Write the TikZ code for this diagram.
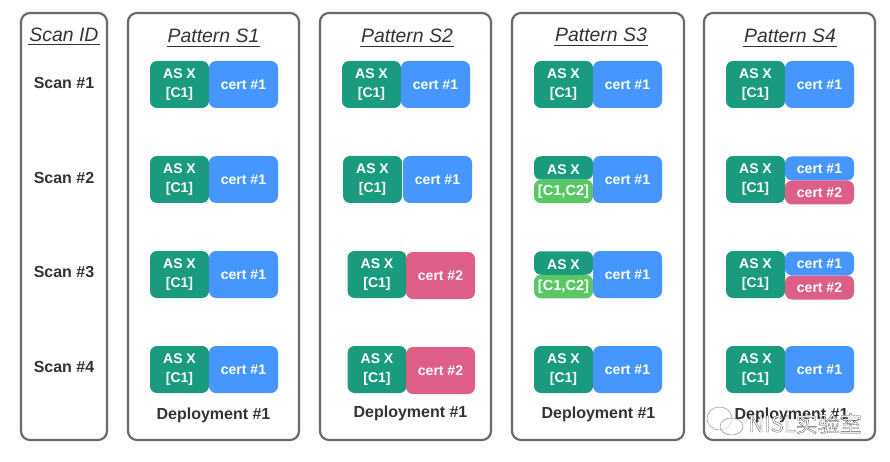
\documentclass[tikz,border=0pt]{standalone}
\usepackage{fontspec}
\setmainfont{Liberation Sans}
\newfontfamily\cjkfont{Noto Sans CJK SC}
\definecolor{panelc}{HTML}{6B6B6B}
\definecolor{inkc}{HTML}{333333}
\definecolor{tealc}{HTML}{1A9A7E}
\definecolor{bluec}{HTML}{4596FF}
\definecolor{pinkc}{HTML}{DD5E87}
\definecolor{greenc}{HTML}{58C764}
\tikzset{
  panel/.style={draw=panelc,line width=2.2pt,rounded corners=9pt,fill=white},
  tile/.style={inner sep=0pt,outer sep=0pt,rounded corners=7pt,text=white,align=center,
    font=\fontsize{14}{19}\selectfont\bfseries},
  asbox/.style={tile,fill=tealc,minimum width=59pt,minimum height=47pt,
    execute at begin node={\rule{0pt}{12.5pt}}},
  asthin/.style={tile,fill=tealc,minimum width=59pt,minimum height=23.5pt,
    execute at begin node={\rule{0pt}{12.5pt}}},
  ccbox/.style={tile,fill=greenc,minimum width=59pt,minimum height=23.5pt,font=\fontsize{14.6}{18}\selectfont\bfseries},
  certbox/.style={tile,fill=bluec,minimum width=69pt,minimum height=47pt},
  certtwo/.style={tile,fill=pinkc,minimum width=69pt,minimum height=47pt},
  certthin/.style={tile,fill=bluec,minimum width=69pt,minimum height=24pt},
  certthintwo/.style={tile,fill=pinkc,minimum width=69pt,minimum height=24pt},
  title/.style={inner sep=0pt,outer sep=0pt,text=inkc,text depth=3.5pt,text height=15pt,font=\fontsize{19.4}{22}\selectfont\itshape},
  rowlabel/.style={inner sep=0pt,text=inkc,font=\fontsize{16}{19}\selectfont\bfseries},
  rule/.style={draw=inkc,line width=1.2pt},
  bubble/.style={draw=black!50,line width=.4pt,fill=white,fill opacity=.55},
}
\begin{document}
\begin{tikzpicture}[x=1pt,y=-1pt]
\useasboundingbox (0,0) rectangle (890,462);
% panels
\draw[panel] (21,13) rectangle (107,440);
\draw[panel] (128,13) rectangle (299,440);
\draw[panel] (320,13) rectangle (491,440);
\draw[panel] (512,13) rectangle (684,440);
\draw[panel] (704,13) rectangle (875,440);
% titles
\node[title] (tid) at (64,35.5) {Scan ID};
\node[title] (ts1) at (213.5,37.2) {Pattern S1};
\node[title] (ts2) at (407,37.2) {Pattern S2};
\node[title] (ts3) at (601,36.2) {Pattern S3};
\node[title] (ts4) at (790,37.2) {Pattern S4};
\foreach \t in {tid,ts1,ts2,ts3,ts4}{\draw[rule] ([xshift=-1pt]\t.south west) -- ([xshift=1pt]\t.south east);}
% scan labels
\node[rowlabel] (l1) at (64,83) {Scan \#1};
\node[rowlabel] (l2) at (64,178) {Scan \#2};
\node[rowlabel] (l3) at (64,272) {Scan \#3};
\node[rowlabel] (l4) at (64,367) {Scan \#4};
% S1
\node[asbox] (a11) at (179.5,84.5) {AS X\\{}[C1]};
\node[certbox] (c11) at (243.5,84.5) {cert \#1};
\node[asbox] (a12) at (179.5,179.5) {AS X\\{}[C1]};
\node[certbox] (c12) at (243.5,179.5) {cert \#1};
\node[asbox] (a13) at (179.5,274.5) {AS X\\{}[C1]};
\node[certbox] (c13) at (243.5,274.5) {cert \#1};
\node[asbox] (a14) at (179.5,369.5) {AS X\\{}[C1]};
\node[certbox] (c14) at (243.5,369.5) {cert \#1};
\node[rowlabel] (d1) at (213.5,415.3) {Deployment \#1};
% S2
\node[asbox] (a21) at (371.5,84.5) {AS X\\{}[C1]};
\node[certbox] (c21) at (435.5,84.5) {cert \#1};
\node[asbox] (a22) at (372.5,179.5) {AS X\\{}[C1]};
\node[certbox] (c22) at (437.5,179.5) {cert \#1};
\node[asbox] (a23) at (377,274.5) {AS X\\{}[C1]};
\node[certtwo] (c23) at (440.5,275.5) {cert \#2};
\node[asbox] (a24) at (377,369.5) {AS X\\{}[C1]};
\node[certtwo] (c24) at (440.5,370.5) {cert \#2};
\node[rowlabel] (d2) at (410.5,413.3) {Deployment \#1};
% S3
\node[asbox] (a31) at (563.5,84.5) {AS X\\{}[C1]};
\node[certbox] (c31) at (627.5,84.5) {cert \#1};
\node[asthin] (a32) at (563.5,168) {AS X};
\node[ccbox] (g32) at (563.5,191.5) {[C1,C2]};
\node[certbox] (c32) at (627.5,179.5) {cert \#1};
\node[asthin] (a33) at (563.5,263) {AS X};
\node[ccbox] (g33) at (563.5,286.5) {[C1,C2]};
\node[certbox] (c33) at (627.5,274.5) {cert \#1};
\node[asbox] (a34) at (563.5,369.5) {AS X\\{}[C1]};
\node[certbox] (c34) at (627.5,369.5) {cert \#1};
\node[rowlabel] (d3) at (598.5,414.3) {Deployment \#1};
% S4
\node[asbox] (a41) at (755.5,84.5) {AS X\\{}[C1]};
\node[certbox] (c41) at (819.5,84.5) {cert \#1};
\node[asbox] (a42) at (755.5,179.5) {AS X\\{}[C1]};
\node[certthin] (c42) at (819.5,168.5) {cert \#1};
\node[certthintwo] (e42) at (819.5,192.5) {cert \#2};
\node[asbox] (a43) at (755.5,274.5) {AS X\\{}[C1]};
\node[certthin] (c43) at (819.5,263.5) {cert \#1};
\node[certthintwo] (e43) at (819.5,287.5) {cert \#2};
\node[asbox] (a44) at (755.5,369.5) {AS X\\{}[C1]};
\node[certbox] (c44) at (819.5,369.5) {cert \#1};
\node[rowlabel] (d4) at (791.5,415.3) {Deployment \#1};
% watermark
\draw[bubble] (719.5,418.5) ellipse (12.5 and 11.5);
\draw[bubble] (731.5,426.5) ellipse (11.5 and 8.5);
\node[inner sep=0pt,font=\fontsize{22}{24}\selectfont\cjkfont] (wm) at (805,423.5)
  {\color{white}\special{pdf:code 2 Tr 0.35 w 0.35 G}NISL实验室\special{pdf:code 0 Tr}};
\end{tikzpicture}
\end{document}
